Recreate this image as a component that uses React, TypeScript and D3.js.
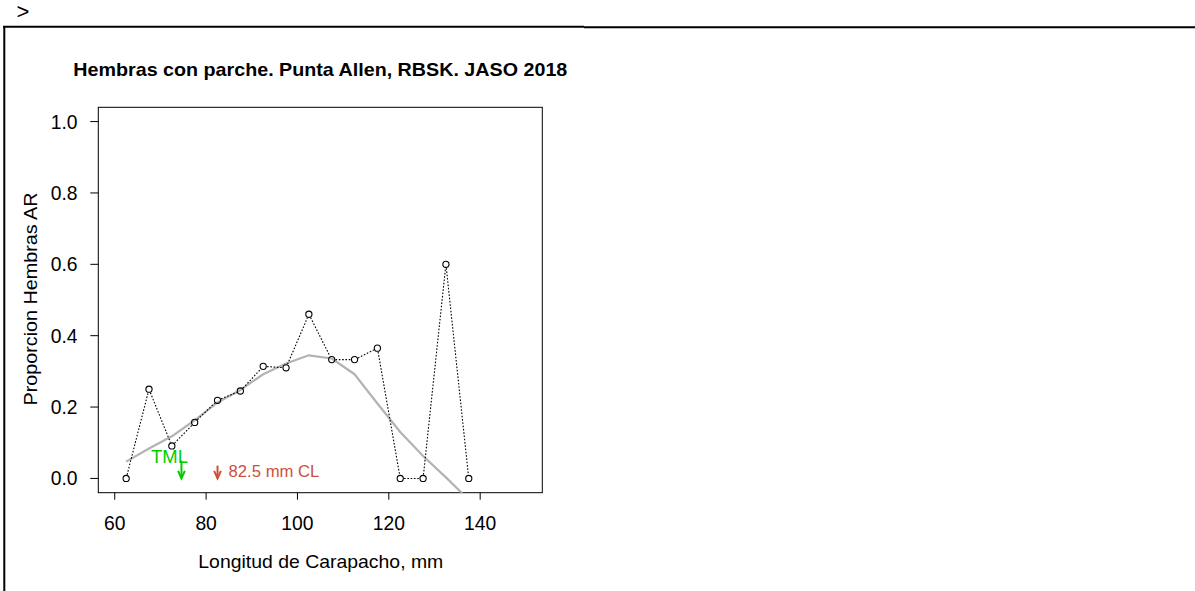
import React from "react";
import * as d3 from "d3";

// ---- data ----
const lengthClasses = [62.5, 67.5, 72.5, 77.5, 82.5, 87.5, 92.5, 97.5, 102.5, 107.5, 112.5, 117.5, 122.5, 127.5, 132.5, 137.5];
const proportionAR = [0, 0.25, 0.091, 0.157, 0.219, 0.245, 0.314, 0.31, 0.46, 0.333, 0.333, 0.365, 0, 0, 0.6, 0];
const smoothFit = [0.047, 0.084, 0.118, 0.163, 0.213, 0.248, 0.292, 0.322, 0.345, 0.336, 0.292, 0.21, 0.13, 0.063, 0.003, -0.06];
const xTicks = [60, 80, 100, 120, 140];
const yTicks = [0, 0.2, 0.4, 0.6, 0.8, 1.0];
const xLimits = [60, 150];
const yLimits = [0, 1];
const tmlValue = 74.6;
const tmlLabelPos = [72, 0.063];
const tmlLabel = "TML";
const markerValue = 82.5;
const markerLabel = "82.5 mm CL";
const titleText = "Hembras con parche. Punta Allen, RBSK. JASO 2018";
const xLabel = "Longitud de Carapacho, mm";
const yLabel = "Proporcion Hembras AR";

const FONT = "'Liberation Sans', Arial, Helvetica, sans-serif";
const W = 1195;
const H = 591;
const box = { left: 98.3, right: 542.3, top: 107.3, bottom: 492.7 };

function ext(lim: number[]) {
  const d = (lim[1] - lim[0]) * 0.04;
  return [lim[0] - d, lim[1] + d];
}

export default function App() {
  const x = d3.scaleLinear().domain(ext(xLimits)).range([box.left, box.right]);
  const y = d3.scaleLinear().domain(ext(yLimits)).range([box.bottom, box.top]);
  const pts = lengthClasses.map((l, i) => [x(l), y(proportionAR[i])] as [number, number]);
  const fitLine = d3.line<number>().x((_, i) => x(lengthClasses[i])).y((v) => y(v))(smoothFit) || "";

  // type="b" style segments: gaps around points
  const gap = 3.8;
  const segs = pts.slice(1).map((p, i) => {
    const a = pts[i];
    const dx = p[0] - a[0];
    const dy = p[1] - a[1];
    const len = Math.hypot(dx, dy);
    if (len <= 2 * gap) return null;
    const ux = dx / len, uy = dy / len;
    return [a[0] + ux * gap, a[1] + uy * gap, p[0] - ux * gap, p[1] - uy * gap];
  });

  const arrow = (xv: number, y0: number, y1: number, color: string) => {
    const px = x(xv);
    const top = y(y0);
    const tip = y(y1);
    return (
      <g stroke={color} strokeWidth={2} fill="none">
        <line x1={px} y1={top} x2={px} y2={tip} />
        <polyline points={`${px - 3.4},${tip - 7.5} ${px},${tip} ${px + 3.4},${tip - 7.5}`} />
      </g>
    );
  };

  return (
    <svg width={W} height={H} style={{ position: "fixed", left: 0, top: 0, background: "#fff" }} fontFamily={FONT}>
      <rect x={0} y={0} width={W} height={H} fill="#fff" />
      {/* page frame */}
      <text x={16.5} y={19} fontSize={22} fill="#000" fontFamily={FONT}>&gt;</text>
      <line x1={3} y1={26.7} x2={584} y2={26.7} stroke="#000" strokeWidth={2} />
      <line x1={584} y1={27.3} x2={W} y2={27.3} stroke="#000" strokeWidth={2} />
      <line x1={4.3} y1={26} x2={4.3} y2={H} stroke="#000" strokeWidth={2} />

      <defs>
        <clipPath id="plotclip">
          <rect x={box.left} y={box.top} width={box.right - box.left} height={box.bottom - box.top} />
        </clipPath>
      </defs>

      {/* title */}
      <text x={(box.left + box.right) / 2} y={75.5} textAnchor="middle" fontWeight="bold" fontSize={19}
        textLength={494} lengthAdjust="spacingAndGlyphs">{titleText}</text>

      {/* plot box */}
      <rect x={box.left} y={box.top} width={box.right - box.left} height={box.bottom - box.top} fill="none" stroke="#000" strokeWidth={1} />

      {/* x axis */}
      {xTicks.map((t) => (
        <g key={"xt" + t}>
          <line x1={x(t)} y1={box.bottom} x2={x(t)} y2={box.bottom + 7} stroke="#000" />
          <text x={x(t)} y={529.5} textAnchor="middle" fontSize={19.3}>{t}</text>
        </g>
      ))}
      {/* y axis */}
      {yTicks.map((t) => (
        <g key={"yt" + t}>
          <line x1={box.left} y1={y(t)} x2={box.left - 8} y2={y(t)} stroke="#000" />
          <text x={77.5} y={y(t)} dy="0.36em" textAnchor="end" fontSize={19.3}>{t.toFixed(1)}</text>
        </g>
      ))}

      <text x={320.8} y={568} textAnchor="middle" fontSize={19} textLength={245} lengthAdjust="spacingAndGlyphs">{xLabel}</text>
      <text transform={`translate(36.7, ${(box.top + box.bottom) / 2 - 1}) rotate(-90)`} textAnchor="middle" fontSize={19}
        textLength={213} lengthAdjust="spacingAndGlyphs">{yLabel}</text>

      <g clipPath="url(#plotclip)">
        {/* smooth fit */}
        <path d={fitLine} fill="none" stroke="#b3b3b3" strokeWidth={2.2} strokeLinejoin="round" />
        {/* dotted observed line */}
        {segs.map((s, i) =>
          s ? <line key={"s" + i} x1={s[0]} y1={s[1]} x2={s[2]} y2={s[3]} stroke="#000" strokeWidth={1.1} strokeDasharray="1.6,1.7" /> : null
        )}
        {pts.map((p, i) => (
          <circle key={"p" + i} cx={p[0]} cy={p[1]} r={3.1} fill="none" stroke="#000" strokeWidth={1.1} />
        ))}
      </g>

      {/* annotations */}
      <text x={x(tmlLabelPos[0])} y={y(tmlLabelPos[1])} dy="0.36em" textAnchor="middle" fontSize={18.5} fill="#00cd00">{tmlLabel}</text>
      {arrow(tmlValue, 0.05, 0, "#00cd00")}
      {arrow(markerValue, 0.036, 0, "#cd4f39")}
      <text x={x(markerValue) + 11} y={y(0.02)} dy="0.36em" fontSize={16.7} fill="#cd4f39">{markerLabel}</text>
    </svg>
  );
}
